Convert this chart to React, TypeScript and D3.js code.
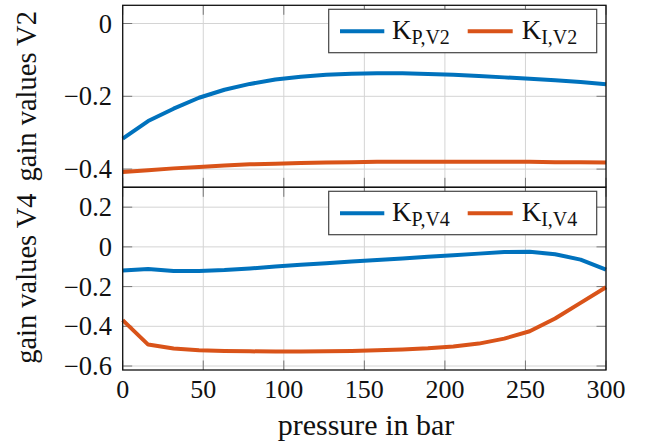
import React from "react";
import * as d3 from "d3";

const pressure = d3.range(20).map((i) => (i * 300) / 19);

const kpV2 = [-0.316, -0.268, -0.234, -0.204, -0.182, -0.166, -0.154, -0.146, -0.141, -0.138, -0.137, -0.137, -0.139, -0.141, -0.144, -0.148, -0.152, -0.156, -0.161, -0.167];
const kiV2 = [-0.408, -0.403, -0.398, -0.394, -0.390, -0.387, -0.385, -0.383, -0.382, -0.381, -0.380, -0.380, -0.380, -0.380, -0.380, -0.380, -0.380, -0.381, -0.381, -0.382];
const kpV4 = [-0.119, -0.111, -0.122, -0.122, -0.117, -0.109, -0.099, -0.090, -0.082, -0.074, -0.066, -0.058, -0.050, -0.042, -0.034, -0.026, -0.025, -0.037, -0.064, -0.114];
const kiV4 = [-0.369, -0.492, -0.512, -0.520, -0.524, -0.526, -0.527, -0.527, -0.526, -0.524, -0.521, -0.517, -0.511, -0.502, -0.487, -0.462, -0.425, -0.361, -0.282, -0.203];

const xTicks = [0, 50, 100, 150, 200, 250, 300];
const yTicksTop = [0, -0.2, -0.4];
const yTicksBottom = [0.2, 0, -0.2, -0.4, -0.6];

const BLUE = "#0072BD";
const ORANGE = "#D95319";
const FONT = "'Liberation Serif', 'Times New Roman', serif";

const fmt = (v: number) => (v < 0 ? "\u2212" + Math.abs(v) : String(v));

const X0 = 122.7;
const X1 = 606;
const TOP0 = 5.3;
const MID = 187.3;
const BOT = 370;

type PanelProps = {
  y0: number;
  y1: number;
  domain: [number, number];
  yTicks: number[];
  kp: number[];
  ki: number[];
  subP: string;
  subI: string;
  ylabel: string;
  showX: boolean;
};

function Panel({ y0, y1, domain, yTicks, kp, ki, subP, subI, ylabel, showX }: PanelProps) {
  const x = d3.scaleLinear().domain([0, 300]).range([X0, X1]);
  const y = d3.scaleLinear().domain(domain).range([y1, y0]);
  const line = d3
    .line<number>()
    .x((_, i) => x(pressure[i]))
    .y((d) => y(d));
  const tl = 9.5;
  const legY = y0 + 26;
  return (
    <g>
      {xTicks.map((t) => (
        <line key={"gx" + t} x1={x(t)} x2={x(t)} y1={y0} y2={y1} stroke="#d4d4d4" strokeWidth={1} />
      ))}
      {yTicks.map((t) => (
        <line key={"gy" + t} x1={X0} x2={X1} y1={y(t)} y2={y(t)} stroke="#d4d4d4" strokeWidth={1} />
      ))}
      {xTicks.map((t) => (
        <g key={"tx" + t}>
          <line x1={x(t)} x2={x(t)} y1={y0} y2={y0 + tl} stroke="#777" strokeWidth={1} />
          <line x1={x(t)} x2={x(t)} y1={y1} y2={y1 - tl} stroke="#777" strokeWidth={1} />
        </g>
      ))}
      {yTicks.map((t) => (
        <g key={"ty" + t}>
          <line x1={X0} x2={X0 + tl} y1={y(t)} y2={y(t)} stroke="#777" strokeWidth={1} />
          <line x1={X1} x2={X1 - tl} y1={y(t)} y2={y(t)} stroke="#777" strokeWidth={1} />
          <text x={112} y={y(t)} dy="0.34em" textAnchor="end" fontFamily={FONT} fontSize={26.5} fill="#111">
            {fmt(t)}
          </text>
        </g>
      ))}
      <path d={line(kp) || ""} fill="none" stroke={BLUE} strokeWidth={4} strokeLinejoin="round" />
      <path d={line(ki) || ""} fill="none" stroke={ORANGE} strokeWidth={4} strokeLinejoin="round" />
      <rect x={X0} y={y0} width={X1 - X0} height={y1 - y0} fill="none" stroke="#111" strokeWidth={1.3} />
      {showX &&
        xTicks.map((t) => (
          <text key={"lx" + t} x={x(t)} y={397.5} textAnchor="middle" fontFamily={FONT} fontSize={26} fill="#111">
            {t}
          </text>
        ))}
      <text
        transform={`translate(35.5,${(y0 + y1) / 2}) rotate(-90)`}
        textAnchor="middle"
        fontFamily={FONT}
        fontSize={28.5}
        fill="#111"
      >
        {ylabel}
      </text>
      <rect x={328.7} y={y0 + 4} width={268} height={43.4} fill="#fff" stroke="#444" strokeWidth={1.2} />
      <line x1={340} x2={384.3} y1={legY} y2={legY} stroke={BLUE} strokeWidth={4} />
      <text x={392} y={legY + 7.3} fontFamily={FONT} fontSize={27} fill="#111">
        K
        <tspan fontSize={20} dy={5}>
          {subP}
        </tspan>
      </text>
      <line x1={467.7} x2={512.7} y1={legY} y2={legY} stroke={ORANGE} strokeWidth={4} />
      <text x={521.7} y={legY + 7.3} fontFamily={FONT} fontSize={27} fill="#111">
        K
        <tspan fontSize={20} dy={5}>
          {subI}
        </tspan>
      </text>
    </g>
  );
}

export default function App() {
  return (
    <svg width={651} height={444} style={{ position: "absolute", left: 0, top: 0, background: "#fff" }}>
      <rect width={651} height={444} fill="#fff" />
      <Panel
        y0={TOP0}
        y1={MID}
        domain={[-0.45, 0.05]}
        yTicks={yTicksTop}
        kp={kpV2}
        ki={kiV2}
        subP="P,V2"
        subI="I,V2"
        ylabel="gain values V2"
        showX={false}
      />
      <Panel
        y0={MID}
        y1={BOT}
        domain={[-0.62, 0.3]}
        yTicks={yTicksBottom}
        kp={kpV4}
        ki={kiV4}
        subP="P,V4"
        subI="I,V4"
        ylabel="gain values V4"
        showX={true}
      />
      <text x={366} y={435} textAnchor="middle" fontFamily={FONT} fontSize={30} fill="#111">
        pressure in bar
      </text>
    </svg>
  );
}
